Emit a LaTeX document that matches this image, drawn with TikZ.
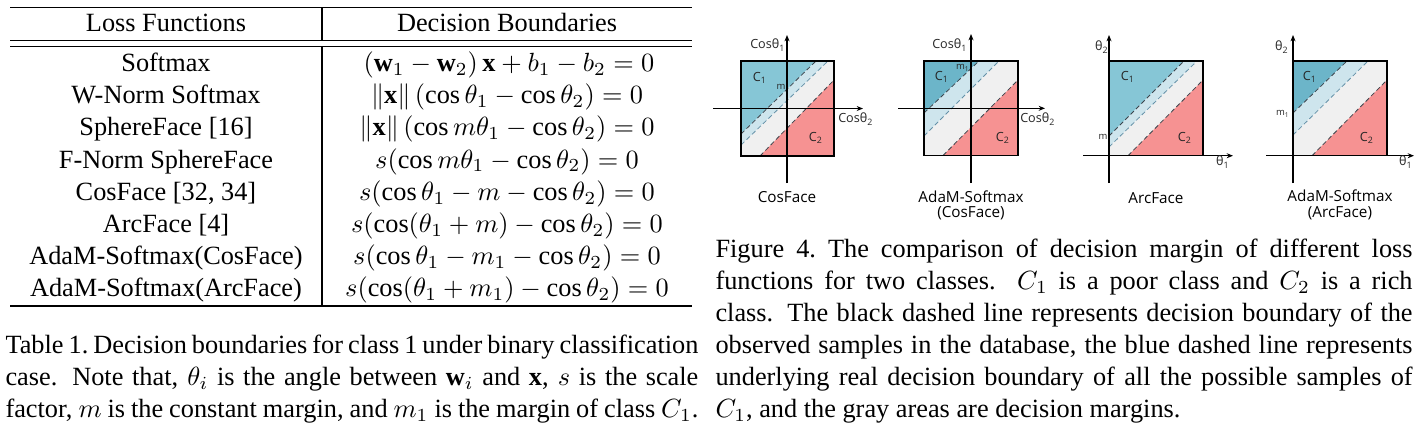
\documentclass[tikz,border=0pt]{standalone}
\usepackage{fontspec}
\setmainfont{Liberation Serif}
\newfontfamily\pf{Open Sans}
\usetikzlibrary{arrows.meta}
\definecolor{cblue}{RGB}{134,198,214}
\definecolor{cbluedk}{RGB}{108,181,201}
\definecolor{clblue}{RGB}{206,229,237}
\definecolor{cgray}{RGB}{240,240,240}
\definecolor{cred}{RGB}{246,146,146}
\definecolor{cdash}{RGB}{60,68,76}
\definecolor{cbdash}{RGB}{100,145,168}
\begin{document}
\begin{tikzpicture}[x=0.38pt,y=-0.38pt,
  txt/.style={inner sep=0pt, anchor=base, font=\fontsize{10}{12}\selectfont},
  capl/.style={inner sep=0pt, anchor=base west, font=\fontsize{10}{12}\selectfont},
  tabrule/.style={line width=0.4pt},
  sq/.style={draw=black, line width=0.45pt},
  bnd/.style={draw=cdash, line width=0.3pt, dash pattern=on 1.8pt off 1.1pt},
  bbnd/.style={draw=cbdash, line width=0.3pt, dash pattern=on 1.8pt off 1.1pt},
  axis/.style={line width=0.45pt, -{Stealth[length=2.4pt,width=1.9pt]}},
  lbl/.style={inner sep=0pt, font=\pf\fontsize{4.8}{5.5}\selectfont, text=black!85},
  mlbl/.style={inner sep=0pt, font=\pf\fontsize{3.6}{4}\selectfont, text=black!85},
  pname/.style={inner sep=0pt, font=\pf\fontsize{5.8}{7}\selectfont}]
\useasboundingbox (0,0) rectangle (1422,426);

% ---------------- Table ----------------
\draw[tabrule] (10,7.5) -- (692,7.5);
\draw[tabrule] (10,40.5) -- (692,40.5);
\draw[tabrule] (10,46.5) -- (692,46.5);
\draw[tabrule] (10,306) -- (692,306);
\draw[tabrule] (322,7.5) -- (322,40.5);
\draw[tabrule] (322,46.5) -- (322,306);

\node[txt] (h1) at (166,31.7) {Loss Functions};
\node[txt] (h2) at (507,31.7) {Decision Boundaries};

\node[txt] (r1a) at (166,71.7) {Softmax};
\node[txt] (r1b) at (509,71.7) {$\left(\mathbf{w}_1-\mathbf{w}_2\right)\mathbf{x}+b_1-b_2=0$};
\node[txt] (r2a) at (166,103.8) {W-Norm Softmax};
\node[txt] (r2b) at (507,103.8) {$\left\|\mathbf{x}\right\|\left(\cos\theta_1-\cos\theta_2\right)=0$};
\node[txt] (r3a) at (166,135.9) {SphereFace [16]};
\node[txt] (r3b) at (507,135.9) {$\left\|\mathbf{x}\right\|\left(\cos m\theta_1-\cos\theta_2\right)=0$};
\node[txt] (r4a) at (166,168) {F-Norm SphereFace};
\node[txt] (r4b) at (507,168) {$s(\cos m\theta_1-\cos\theta_2)=0$};
\node[txt] (r5a) at (166,200.1) {CosFace [32, 34]};
\node[txt] (r5b) at (507,200.1) {$s(\cos\theta_1-m-\cos\theta_2)=0$};
\node[txt] (r6a) at (166,232.2) {ArcFace [4]};
\node[txt] (r6b) at (507,232.2) {$s(\cos(\theta_1+m)-\cos\theta_2)=0$};
\node[txt] (r7a) at (166,264.3) {AdaM-Softmax(CosFace)};
\node[txt] (r7b) at (507,264.3) {$s(\cos\theta_1-m_1-\cos\theta_2)=0$};
\node[txt] (r8a) at (166,296.4) {AdaM-Softmax(ArcFace)};
\node[txt] (r8b) at (507,296.4) {$s(\cos(\theta_1+m_1)-\cos\theta_2)=0$};

% ---------------- Table caption ----------------
\node[capl] (t1) at (5,353.3) {\makebox[263.3pt][s]{Table 1.\ Decision boundaries for class 1 under binary classification}};
\node[capl] (t2) at (5,385.4) {\makebox[263.3pt][s]{case. Note that, $\theta_i$ is the angle between $\mathbf{w}_i$ and $\mathbf{x}$, $s$ is the scale}};
\node[capl] (t3) at (5,417.5) {\makebox[263.3pt][s]{factor, $m$ is the constant margin, and $m_1$ is the margin of class $C_1$.}};

% ---------------- Figure caption ----------------
\node[capl] (f1) at (715,257) {\makebox[264.9pt][s]{Figure 4.\ The comparison of decision margin of different loss}};
\node[capl] (f2) at (715,289.1) {\makebox[264.9pt][s]{functions for two classes. $C_1$ is a poor class and $C_2$ is a rich}};
\node[capl] (f3) at (715,321.2) {\makebox[264.9pt][s]{class. The black dashed line represents decision boundary of the}};
\node[capl] (f4) at (715,353.3) {\makebox[264.9pt][s]{observed samples in the database, the blue dashed line represents}};
\node[capl] (f5) at (715,385.4) {\makebox[264.9pt][s]{underlying real decision boundary of all the possible samples of}};
\node[capl] (f6) at (715,417.5) {$C_1$, and the gray areas are decision margins.};

% ---------------- Panel 1: CosFace ----------------
\fill[cblue] (741,61) -- (816,61) -- (741,134) -- cycle;
\fill[clblue] (816,61) -- (828,61) -- (741,145) -- (741,134) -- cycle;
\fill[cgray] (828,61) -- (834,61) -- (834,80) -- (760,156) -- (741,156) -- (741,145) -- cycle;
\fill[cred] (834,80) -- (834,156) -- (760,156) -- cycle;
\draw[bnd] (741,134) -- (816,61);
\draw[bbnd] (741,145) -- (828,61);
\draw[bnd] (760,156) -- (834,80);
\draw[sq] (741,61) rectangle (834,156);
\draw[axis] (787,183) -- (787,35);
\draw[axis] (713,108.5) -- (863,108.5);
\node[lbl] (p1y) at (768,45) {Cosθ\textsubscript{1}};
\node[lbl] (p1x) at (856,119) {Cosθ\textsubscript{2}};
\node[lbl] (p1c1) at (760,78) {C\textsubscript{1}};
\node[lbl] (p1c2) at (816,138) {C\textsubscript{2}};
\node[mlbl] (p1m) at (781,87) {m};
\node[pname] (p1n) at (787,197) {CosFace};

% ---------------- Panel 2: AdaM-Softmax (CosFace) ----------------
\fill[cbluedk] (924,61) -- (979,61) -- (924,113) -- cycle;
\fill[clblue] (979,61) -- (999,61) -- (924,136) -- (924,113) -- cycle;
\fill[cgray] (999,61) -- (1018,61) -- (1018,80) -- (943,155.5) -- (924,155.5) -- (924,136) -- cycle;
\fill[cred] (1018,80) -- (1018,155.5) -- (943,155.5) -- cycle;
\draw[bnd] (924,113) -- (979,61);
\draw[bbnd] (924,136) -- (999,61);
\draw[bnd] (943,155.5) -- (1018,80);
\draw[sq] (924,61) rectangle (1018,155.5);
\draw[axis] (971,183) -- (971,34);
\draw[axis] (898,108.3) -- (1045,108.3);
\node[lbl] (p2y) at (950,45) {Cosθ\textsubscript{1}};
\node[lbl] (p2x) at (1038,119) {Cosθ\textsubscript{2}};
\node[lbl] (p2c1) at (942,77) {C\textsubscript{1}};
\node[lbl] (p2c2) at (1003,138) {C\textsubscript{2}};
\node[mlbl] (p2m) at (963,68) {m\textsubscript{1}};
\node[pname] (p2n) at (971,197) {AdaM-Softmax};
\node[pname] (p2n2) at (971,213) {(CosFace)};

% ---------------- Panel 3: ArcFace ----------------
\fill[cblue] (1109,61) -- (1184,61) -- (1109,136) -- cycle;
\fill[clblue] (1184,61) -- (1197,61) -- (1109,147) -- (1109,136) -- cycle;
\fill[cgray] (1197,61) -- (1203,61) -- (1203,80) -- (1128,155.7) -- (1109,155.7) -- (1109,147) -- cycle;
\fill[cred] (1203,80) -- (1203,155.7) -- (1128,155.7) -- cycle;
\draw[bnd] (1109,136) -- (1184,61);
\draw[bbnd] (1109,147) -- (1197,61);
\draw[bnd] (1128,155.7) -- (1203,80);
\draw[sq] (1109,61) rectangle (1203,155.7);
\draw[axis] (1109,183) -- (1109,35);
\draw[axis] (1083,155.7) -- (1233,155.7);
\node[lbl] (p3y) at (1102,47) {θ\textsubscript{2}};
\node[lbl] (p3x) at (1223,162) {θ\textsubscript{1}};
\node[lbl] (p3c1) at (1128,77) {C\textsubscript{1}};
\node[lbl] (p3c2) at (1185,138) {C\textsubscript{2}};
\node[mlbl] (p3m) at (1103,137) {m};
\node[pname] (p3n) at (1156,198) {ArcFace};

% ---------------- Panel 4: AdaM-Softmax (ArcFace) ----------------
\fill[cbluedk] (1293,61) -- (1347,61) -- (1293,113) -- cycle;
\fill[clblue] (1347,61) -- (1368,61) -- (1293,135) -- (1293,113) -- cycle;
\fill[cgray] (1368,61) -- (1387,61) -- (1387,80) -- (1312,155.7) -- (1293,155.7) -- (1293,135) -- cycle;
\fill[cred] (1387,80) -- (1387,155.7) -- (1312,155.7) -- cycle;
\draw[bnd] (1293,113) -- (1347,61);
\draw[bbnd] (1293,135) -- (1368,61);
\draw[bnd] (1312,155.7) -- (1387,80);
\draw[sq] (1293,61) rectangle (1387,155.7);
\draw[axis] (1293,183) -- (1293,35);
\draw[axis] (1266,155.7) -- (1414,155.7);
\node[lbl] (p4y) at (1282,47) {θ\textsubscript{2}};
\node[lbl] (p4x) at (1406,162) {θ\textsubscript{1}};
\node[lbl] (p4c1) at (1310,77) {C\textsubscript{1}};
\node[lbl] (p4c2) at (1367,138) {C\textsubscript{2}};
\node[mlbl] (p4m) at (1283,114) {m\textsubscript{1}};
\node[pname] (p4n) at (1340,196) {AdaM-Softmax};
\node[pname] (p4n2) at (1340,213) {(ArcFace)};
\end{tikzpicture}
\end{document}
